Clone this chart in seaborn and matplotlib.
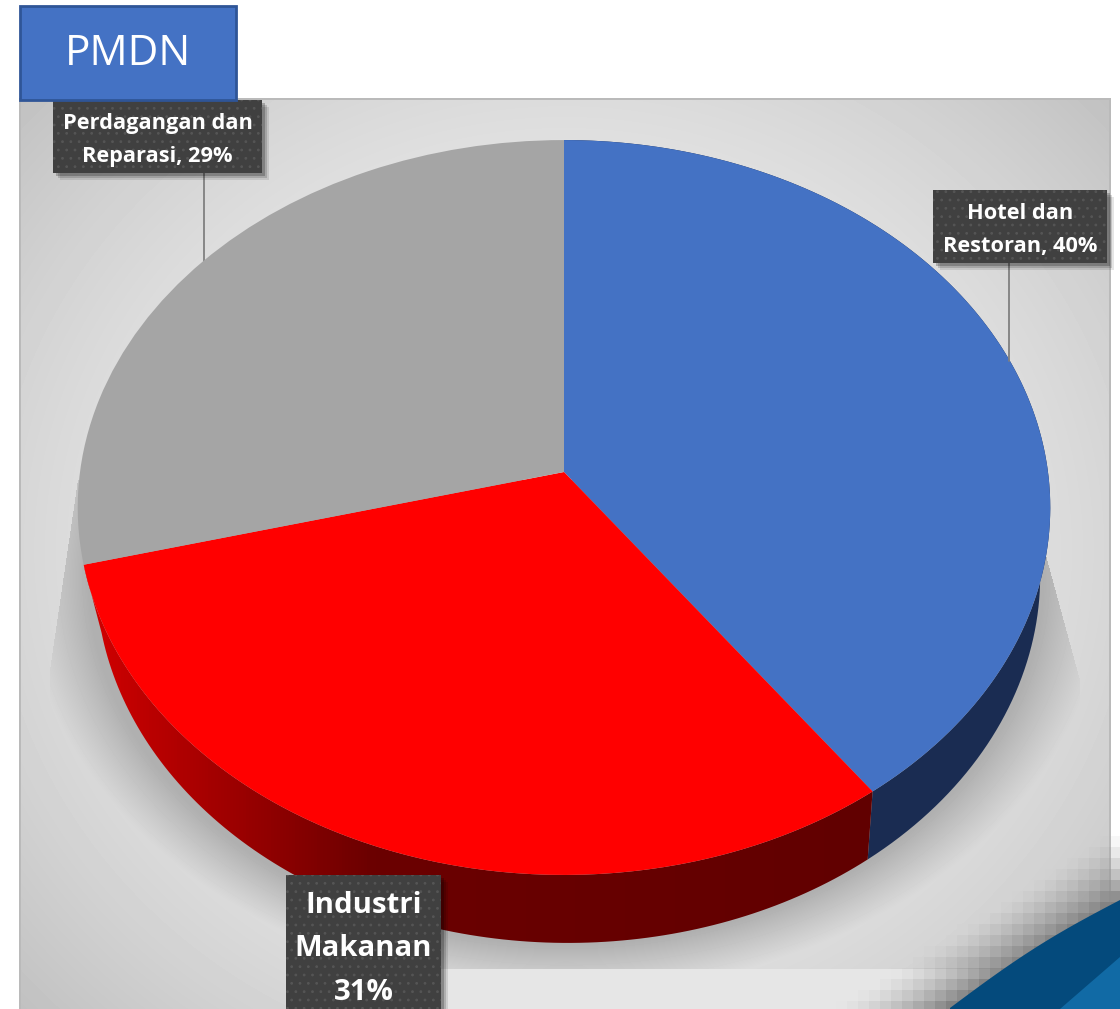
import numpy as np
import matplotlib
matplotlib.use("Agg")
import matplotlib.pyplot as plt
import seaborn as sns
from matplotlib.patches import Rectangle, Polygon
from matplotlib.transforms import Transform
from matplotlib.colors import LinearSegmentedColormap

sns.set_theme(style="white")
plt.rcParams["font.family"] = ["Open Sans", "DejaVu Sans"]
plt.rcParams["hatch.linewidth"] = 0.8

title = "PMDN"
categories = ["Hotel dan\nRestoran, 40%", "Industri\nMakanan\n31%", "Perdagangan dan\nReparasi, 29%"]
values = [40, 31, 29]
top_colors = sns.color_palette(["#4472C4", "#FF0000", "#A5A5A5"])
W, H = 1120, 1009


class Tilt(Transform):
    input_dims = output_dims = 2
    has_inverse = False

    def __init__(self, cx, cy, r, q=364.0, p=0.0966):
        super().__init__()
        self.cx, self.cy, self.r, self.q, self.p = cx, cy, r, q, p

    def transform_non_affine(self, v):
        v = np.asarray(v, float)
        w = 1 + self.p * v[:, 1]
        return np.column_stack([self.cx + self.r * v[:, 0] / w, self.cy - self.q * v[:, 1] / w])


top = Tilt(564, 472, 484)
bottom = Tilt(568, 540, 470)

fig = plt.figure(figsize=(W / 100, H / 100), dpi=100, facecolor="white")
ax = fig.add_axes([0, 0, 1, 1])

# pie top face
wedges, _ = ax.pie(values, startangle=90, counterclock=False, colors=top_colors, radius=1,
                   wedgeprops=dict(linewidth=0))
ax.set_aspect("auto")
ax.set_xlim(0, W)
ax.set_ylim(H, 0)
ax.axis("off")
for wd in wedges:
    wd.set_transform(top + ax.transData)
    wd.set_zorder(5)

# panel background
yy, xx = np.mgrid[0:H, 0:W] + 0.5
d2 = ((xx - 564) / 700) ** 2 + ((yy - 550) / 640) ** 2
bg = 0.945 - 0.17 * d2
f = np.sqrt(((xx - 566) / 478) ** 2 + ((yy - 578) / 367) ** 2)
s = np.clip(1 - (f - 1) / 0.13, 0, 1)
left_edge = np.where(yy < 670, 78 - (yy - 480) * 28 / 190, 50)
right_edge = np.where(yy < 680, 1050 + (yy - 570) * 30 / 110, 1080)
mask = (yy > 480) & (yy < 969) & (xx > left_edge) & (xx < right_edge)
bg = np.where(mask, bg * (1 - s) + 0.69 * s, bg)
bg = np.where((yy >= 969) & (xx > 441), 0.90, bg)
inside = (xx >= 20) & (xx < 1110) & (yy >= 99)
img = np.where(inside, bg, 1.0)
edge = ((np.abs(xx - 20) < 1.5) | (np.abs(xx - 1110) < 1.5)) & (yy >= 98) | ((np.abs(yy - 99) < 1.5) & (xx > 20) & (xx < 1110))
img = np.where(edge, 0.73, img)
# pixelated darkening next to the corner band
bx, by = (xx // 11) * 11 + 5, (yy // 11) * 11 + 5
dist = ((by - 1008) * 170 + (bx - 950) * 108) / np.hypot(170, 108)
t = np.clip(1 + dist / 62, 0, 1) ** 1.5
t = np.where(dist > 5, 0, t)
img = img * (1 - t) + 0.5 * t
ax.imshow(img, cmap="gray", vmin=0, vmax=1, extent=(0, W, H, 0), aspect="auto", zorder=0,
          interpolation="nearest")
ax.set_xlim(0, W)
ax.set_ylim(H, 0)


def strip(a0, a1):
    a = np.radians(np.linspace(a0, a1, 120))
    pts = np.column_stack([np.cos(a), np.sin(a)])
    return np.vstack([top.transform_non_affine(pts), bottom.transform_non_affine(pts)[::-1]])


# side walls, from the value shares
bounds = 90 - np.cumsum([0] + values) * 3.6
blue_side = Polygon(strip(bounds[0], bounds[1]), closed=True, fc="#1A2C52", ec="none", zorder=2)
ax.add_patch(blue_side)
red_side = Polygon(strip(bounds[1], bounds[2]), closed=True, fc="none", ec="none", zorder=2)
ax.add_patch(red_side)
xs = np.linspace(0, 1, 256)
stops_x, stops_r = [0, 0.09, 0.2, 0.36, 1], [0.83, 0.72, 0.60, 0.42, 0.38]
reds = LinearSegmentedColormap.from_list("sidered", [(x, (r, 0, 0)) for x, r in zip(stops_x, stops_r)])
grad = ax.imshow(xs[None, :], cmap=reds, extent=(84, 880, 1000, 500), aspect="auto", zorder=3)
grad.set_clip_path(red_side)
ax.set_xlim(0, W)
ax.set_ylim(H, 0)

# bottom-right corner bands
cu = np.linspace(0, 1, 40)
b1x = 950 + 170 * cu
b1y = 1008 - 108 * cu - 6 * np.sin(np.pi * cu)
ax.add_patch(Polygon(np.vstack([np.column_stack([b1x, b1y]), [[1120, 1009], [950, 1009]]]), fc="#044A7C", ec="none", zorder=1))
b2x = 1060 + 60 * cu
b2y = 1009 - 52 * cu
ax.add_patch(Polygon(np.vstack([np.column_stack([b2x, b2y]), [[1120, 1009]]]), fc="#116AA5", ec="none", zorder=1.1))

# leader lines
ax.plot([204, 204], [172, 262], color="#808080", lw=1.3, zorder=4)
ax.plot([1009, 1009], [262, 361], color="#808080", lw=1.3, zorder=6)


def label(x0, y0, x1, y1, txt, size, ty, ls):
    for off, al in [(7, 0.10), (5, 0.15), (3, 0.22)]:
        ax.add_patch(Rectangle((x0 + off, y0 + off), x1 - x0, y1 - y0, fc="black", ec="none", alpha=al, zorder=7))
    ax.add_patch(Rectangle((x0, y0), x1 - x0, y1 - y0, fc="#404040", ec="#555555", lw=0, hatch="..", zorder=8))
    ax.text((x0 + x1) / 2, ty, txt, color="white", fontsize=size, fontweight="bold", ha="center",
            va="center", linespacing=ls, zorder=9)


label(53, 100, 262, 173, categories[2], 15.7, 140, 1.72)
label(933, 190, 1107, 263, categories[0], 15.7, 230, 1.72)
label(286, 875, 441, 1015, categories[1], 21.2, 949, 1.66)

# title box
ax.add_patch(Rectangle((20, 6), 216, 94, fc="#4472C4", ec="#2F5597", lw=2, zorder=10))
ax.text(128, 54, title, color="white", fontsize=30.5, ha="center", va="center", zorder=11)

fig.savefig("out.png", dpi=100, facecolor="white")
